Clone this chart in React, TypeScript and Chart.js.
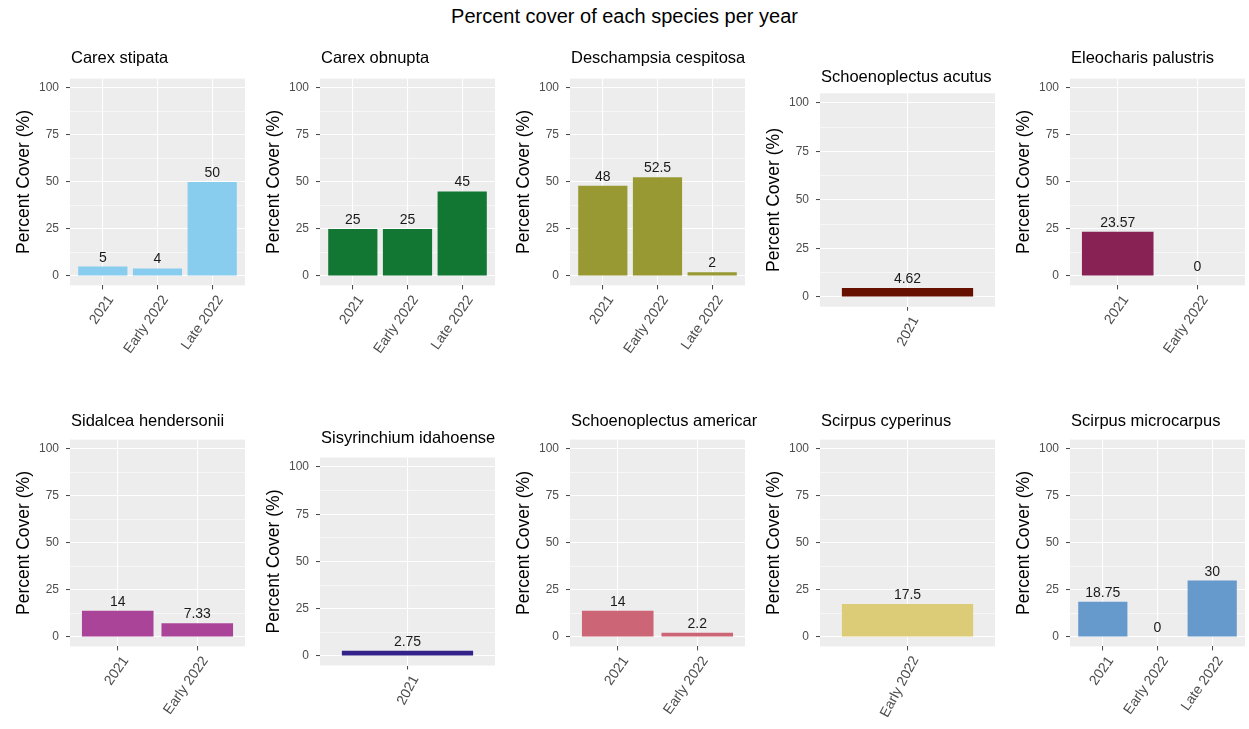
import React, { useEffect, useRef } from "react";
import { Chart, registerables } from "chart.js";

Chart.register(...registerables);
Chart.defaults.font.family = '"Liberation Sans", Arial, Helvetica, sans-serif';

// ---------------- data ----------------
const MAIN_TITLE = "Percent cover of each species per year";
const Y_TITLE = "Percent Cover (%)";

const SPECIES = [
  "Carex stipata",
  "Carex obnupta",
  "Deschampsia cespitosa",
  "Schoenoplectus acutus",
  "Eleocharis palustris",
  "Sidalcea hendersonii",
  "Sisyrinchium idahoense",
  "Schoenoplectus americanus",
  "Scirpus cyperinus",
  "Scirpus microcarpus",
];

const YEARS = [
  ["2021", "Early 2022", "Late 2022"],
  ["2021", "Early 2022", "Late 2022"],
  ["2021", "Early 2022", "Late 2022"],
  ["2021"],
  ["2021", "Early 2022"],
  ["2021", "Early 2022"],
  ["2021"],
  ["2021", "Early 2022"],
  ["Early 2022"],
  ["2021", "Early 2022", "Late 2022"],
];

const COVER = [
  [5, 4, 50],
  [25, 25, 45],
  [48, 52.5, 2],
  [4.62],
  [23.57, 0],
  [14, 7.33],
  [2.75],
  [14, 2.2],
  [17.5],
  [18.75, 0, 30],
];

const COLORS = [
  "#88CCEE",
  "#117733",
  "#999933",
  "#661100",
  "#882255",
  "#AA4499",
  "#332288",
  "#CC6677",
  "#DDCC77",
  "#6699CC",
];

const Y_MAJOR = [0, 25, 50, 75, 100];
const Y_MINOR = [12.5, 37.5, 62.5, 87.5];

// ---------------- layout (page pixels) ----------------
const PAGE_W = 1249;
const PAGE_H = 729;
const COL_X = [0, 250, 500, 750, 1000];
const ROW_TOP = [30, 392];
const ROW_BOTTOM = [362, 729];
const PANEL_TOP = [78.6, 78.6, 78.6, 93.3, 78.6, 439.6, 457.5, 439.6, 439.6, 439.6];
const PANEL_BOTTOM = [285.4, 285.4, 285.4, 306.7, 285.4, 646.4, 665.5, 646.4, 646.4, 646.4];
const TITLE_Y = [58, 58, 58, 77, 58, 421, 438, 421, 421, 421];

const FONT = '"Liberation Sans", Arial, Helvetica, sans-serif';

const panelBg = {
  id: "panelBg",
  beforeDraw(chart: any, _a: any, opts: any) {
    const { ctx, chartArea: a } = chart;
    ctx.save();
    ctx.fillStyle = opts.color;
    ctx.fillRect(a.left, a.top, a.right - a.left, a.bottom - a.top);
    ctx.restore();
  },
};

const valueLabels = {
  id: "valueLabels",
  afterDatasetsDraw(chart: any) {
    const { ctx } = chart;
    const meta = chart.getDatasetMeta(0);
    const ds = chart.data.datasets[0];
    ctx.save();
    ctx.font = `14px ${FONT}`;
    ctx.fillStyle = "#1A1A1A";
    ctx.textAlign = "center";
    ctx.textBaseline = "alphabetic";
    meta.data.forEach((el: any, i: number) => {
      const v = ds.data[i].y;
      ctx.fillText(String(v), el.x, el.y - 5);
    });
    ctx.restore();
  },
};

const panelTitle = {
  id: "panelTitle",
  afterDraw(chart: any, _a: any, opts: any) {
    const { ctx, chartArea: a } = chart;
    ctx.save();
    ctx.font = `16.5px ${FONT}`;
    ctx.fillStyle = "#000000";
    ctx.textAlign = "left";
    ctx.textBaseline = "middle";
    ctx.fillText(opts.text, a.left + 1, opts.y);
    ctx.restore();
  },
};

function Panel({ idx }: { idx: number }) {
  const ref = useRef<HTMLCanvasElement>(null);
  const col = idx % 5;
  const row = Math.floor(idx / 5);
  const cellLeft = COL_X[col] + 7;
  const cellRight = Math.min(cellLeft + 250, PAGE_W);
  const cellTop = ROW_TOP[row];
  const cellBottom = ROW_BOTTOM[row];
  const panelLeft = COL_X[col] + 70;
  const panelRight = COL_X[col] + 245;
  const w = cellRight - cellLeft;
  const h = cellBottom - cellTop;

  useEffect(() => {
    const years = YEARS[idx];
    const values = COVER[idx];
    const n = years.length;
    const rot = n === 1 ? 62 : 55;
    const chart = new Chart(ref.current as HTMLCanvasElement, {
      type: "bar",
      data: {
        datasets: [
          {
            data: values.map((v, i) => ({ x: i + 1, y: v })),
            backgroundColor: COLORS[idx],
            borderWidth: 0,
            categoryPercentage: n === 1 ? 0.9 / 1.2 : 0.9,
            barPercentage: 1,
          } as any,
        ],
      },
      options: {
        animation: false,
        responsive: false,
        maintainAspectRatio: false,
        events: [],
        layout: {
          padding: {
            left: 0,
            top: PANEL_TOP[idx] - cellTop,
            right: cellRight - panelRight,
            bottom: 0,
          },
        },
        scales: {
          x: {
            type: "linear",
            offset: false,
            min: 0.4,
            max: n + 0.6,
            afterBuildTicks: (ax: any) => {
              ax.ticks = years.map((_, i) => ({ value: i + 1 }));
            },
            afterFit: (ax: any) => {
              ax.height = cellBottom - PANEL_BOTTOM[idx];
            },
            ticks: {
              autoSkip: false,
              maxRotation: rot,
              minRotation: rot,
              padding: 3,
              labelOffset: 8,
              color: "#4D4D4D",
              font: { size: 14 },
              callback: (v: any) => years[Math.round(v) - 1] ?? "",
            },
            grid: {
              offset: false,
              color: "#FFFFFF",
              lineWidth: 1.1,
              tickColor: "#444444",
              tickLength: 4,
              tickWidth: 1,
            },
            border: { display: false },
          },
          y: {
            type: "linear",
            min: -5,
            max: 105,
            afterBuildTicks: (ax: any) => {
              ax.ticks = [...Y_MAJOR, ...Y_MINOR]
                .sort((a, b) => a - b)
                .map((v) => ({ value: v }));
            },
            afterFit: (ax: any) => {
              ax.width = panelLeft - cellLeft;
            },
            ticks: {
              padding: 7,
              color: "#4D4D4D",
              font: { size: 12 },
              callback: (v: any) => (Y_MAJOR.includes(v) ? String(v) : ""),
            },
            grid: {
              color: "#FFFFFF",
              lineWidth: (c: any) => (Y_MAJOR.includes(c.tick.value) ? 1.1 : 0.55),
              tickColor: (c: any) =>
                Y_MAJOR.includes(c.tick.value) ? "#444444" : "rgba(0,0,0,0)",
              tickLength: 4,
              tickWidth: 1,
            },
            border: { display: false },
            title: {
              display: true,
              text: Y_TITLE,
              color: "#000000",
              font: { size: 17.5 },
              padding: { top: 7, bottom: 0 },
            },
          },
        },
        plugins: {
          legend: { display: false },
          tooltip: { enabled: false },
          title: { display: false },
          panelBg: { color: "#EDEDED" },
          panelTitle: { text: SPECIES[idx], y: TITLE_Y[idx] - cellTop },
        } as any,
      },
      plugins: [panelBg, valueLabels, panelTitle],
    } as any);
    return () => chart.destroy();
  }, [idx]);

  return (
    <canvas
      ref={ref}
      width={w}
      height={h}
      style={{ position: "absolute", left: cellLeft, top: cellTop, width: w, height: h }}
    />
  );
}

export default function App() {
  return (
    <div
      style={{
        position: "absolute",
        left: 0,
        top: 0,
        width: PAGE_W,
        height: PAGE_H,
        background: "#FFFFFF",
        overflow: "hidden",
      }}
    >
      <div
        style={{
          position: "absolute",
          left: 0,
          top: 5,
          width: PAGE_W,
          textAlign: "center",
          fontFamily: FONT,
          fontSize: 20,
          lineHeight: "22px",
          color: "#000000",
        }}
      >
        {MAIN_TITLE}
      </div>
      {SPECIES.map((_, i) => (
        <Panel key={i} idx={i} />
      ))}
    </div>
  );
}
